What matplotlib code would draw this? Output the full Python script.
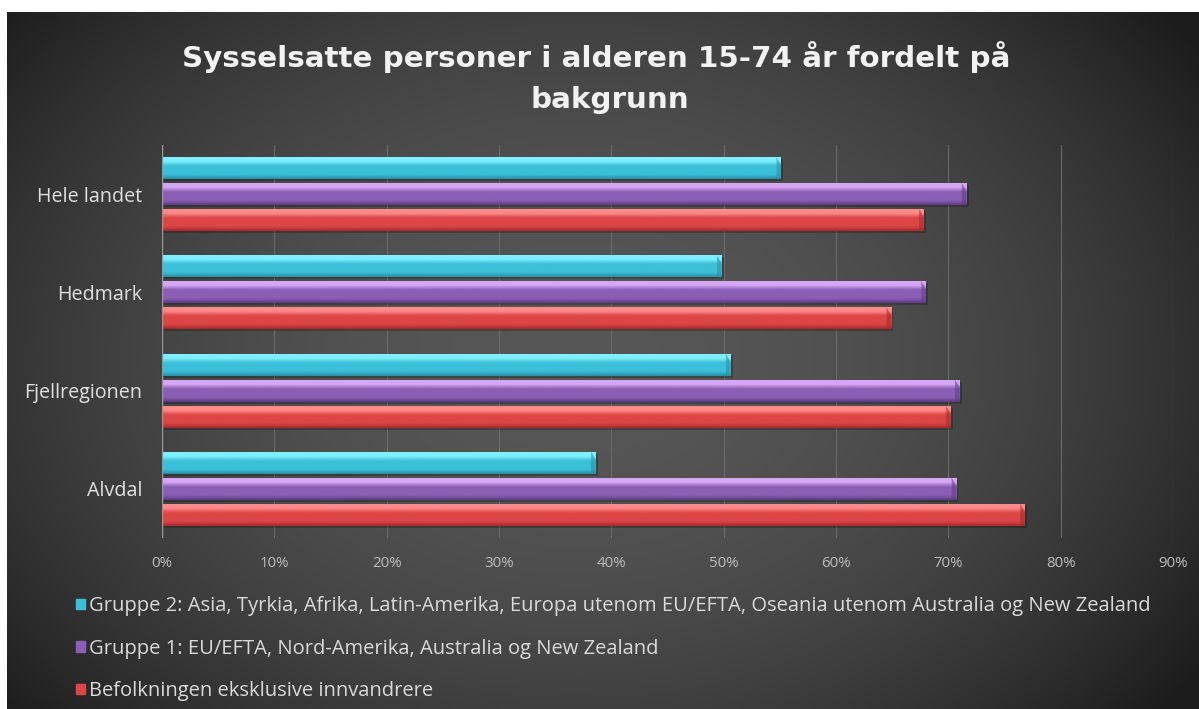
import numpy as np
import matplotlib
matplotlib.use("Agg")
import matplotlib.pyplot as plt
from matplotlib.patches import Rectangle, Polygon
from matplotlib.colors import LinearSegmentedColormap

# ---- data ----
categories = ["Hele landet", "Hedmark", "Fjellregionen", "Alvdal"]
series_names = [
    "Gruppe 2: Asia, Tyrkia, Afrika, Latin-Amerika, Europa utenom EU/EFTA, Oseania utenom Australia og New Zealand",
    "Gruppe 1: EU/EFTA, Nord-Amerika, Australia og New Zealand",
    "Befolkningen eksklusive innvandrere",
]
gruppe2 = [55.1, 49.8, 50.6, 38.6]
gruppe1 = [71.6, 68.0, 71.0, 70.7]
befolkning = [67.8, 64.9, 70.2, 76.8]
xticks = [0, 10, 20, 30, 40, 50, 60, 70, 80, 90]
title_lines = ["Sysselsatte personer i alderen 15-74 år fordelt på", "bakgrunn"]

# ---- style ----
FONT = ["Open Sans", "DejaVu Sans"]
plt.rcParams["font.family"] = FONT
W, H = 1199, 709
fig = plt.figure(figsize=(W / 100, H / 100), dpi=100)
fig.patch.set_facecolor("white")

# background with radial gradient (white border top/left)
bg = fig.add_axes([7 / W, 0, 1 - 7 / W, 1 - 12 / H])
bg.set_axis_off()
yy, xx = np.mgrid[0:1:300j, 0:1:500j]
r2 = ((xx - 0.48) / 0.62) ** 2 + ((yy - 0.5) / 0.78) ** 2
val = np.clip(0.34 - 0.22 * r2, 0.11, 0.34)
bg.imshow(np.dstack([val, val, val]), aspect="auto", extent=(0, 1, 0, 1))
bg.set_xlim(0, 1)
bg.set_ylim(0, 1)

for txt, ypx, xpx in zip(title_lines, [57, 100], [596, 610]):
    fig.text(xpx / W, 1 - ypx / H, txt, ha="center", va="center",
             color="#f2f2f2", fontsize=21.2, fontweight="bold", family=["DejaVu Sans"])

left, right, top, bottom = 162, 1173, 145, 538
ax = fig.add_axes([left / W, 1 - bottom / H, (right - left) / W, (bottom - top) / H])
ax.set_facecolor("none")
ax.set_xlim(0, 90)
ax.set_ylim(3.5, -0.5)

colors = [
    ("#7ff0ff", "#3cc0d8", "#2590a8"),
    ("#d6a8f4", "#8b5fb5", "#5e3a86"),
    ("#ff8a8a", "#dc4646", "#a82828"),
]
offsets = [-0.265, 0.0, 0.265]
height = 0.225
ypos = np.arange(len(categories))

for gx in xticks[1:]:
    ax.axvline(gx, color="#6a6a6a", lw=0.8, zorder=0)
ax.axvline(0, color="#9a9a9a", lw=1.0, zorder=3)

for vals, (hi, mid, lo), off in zip([gruppe2, gruppe1, befolkning], colors, offsets):
    # soft shadow
    ax.barh(ypos + off + 0.02, vals, height=height, left=0.2, color="black", alpha=0.22, zorder=1)
    bars = ax.barh(ypos + off, vals, height=height, color=mid, zorder=2)
    cmap = LinearSegmentedColormap.from_list("g", [(0, hi), (0.22, hi), (0.42, mid), (0.8, mid), (1.0, lo)])
    grad = np.linspace(0, 1, 64).reshape(-1, 1)
    for b in bars:
        x0, y0 = b.get_x(), b.get_y()
        w, h = b.get_width(), b.get_height()
        im = ax.imshow(grad, cmap=cmap, aspect="auto", extent=(x0, x0 + w, y0 + h, y0),
                       interpolation="bicubic", zorder=2.5)
        im.set_clip_path(b)
        # bevelled end
        x1 = x0 + w
        d = 0.4
        ax.add_patch(Polygon([(x1 - d, y0), (x1, y0 + 0.35 * h), (x1, y0 + h), (x1 - d, y0 + h)],
                             closed=True, facecolor=lo, edgecolor="none", alpha=0.55, zorder=2.6))

ax.set_xticks(xticks)
ax.set_xticklabels([f"{t}%" for t in xticks], color="#bdbdbd", fontsize=10.8)
ax.set_yticks(ypos)
ax.set_yticklabels(categories, color="#e0e0e0", fontsize=14.2)
ax.tick_params(axis="both", length=0)
ax.tick_params(axis="x", pad=13)
ax.tick_params(axis="y", pad=14)
for s in ax.spines.values():
    s.set_visible(False)

handles = [Rectangle((0, 0), 1, 1, color=c[1]) for c in colors]
leg = fig.legend(handles, series_names, loc="upper left",
                 bbox_to_anchor=(58 / W, 1 - 578 / H), frameon=False,
                 fontsize=14.5, labelcolor="#dadada", handlelength=0.45, handleheight=0.45,
                 handletextpad=0.2, labelspacing=1.12)

fig.savefig("out.png", dpi=100, facecolor=fig.get_facecolor())
